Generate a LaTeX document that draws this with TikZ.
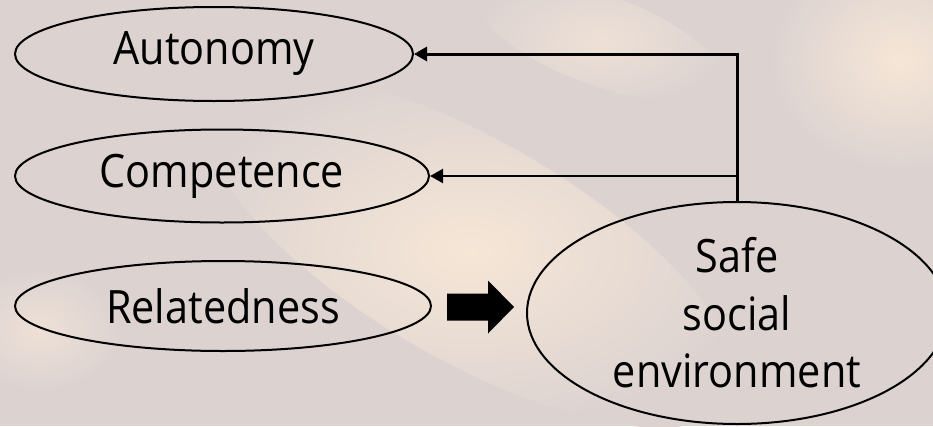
\documentclass[tikz,border=0pt]{standalone}
\usepackage{fontspec}
\setmainfont[FakeStretch=0.9]{Open Sans}
\usetikzlibrary{shapes.geometric,arrows.meta,calc}
\definecolor{bgbase}{RGB}{220,211,209}
\definecolor{peach}{RGB}{246,230,214}
\definecolor{peachlt}{RGB}{238,224,214}
\begin{document}
\begin{tikzpicture}[x=1pt,y=-1pt,
  need/.style={ellipse, draw=black, line width=2pt, inner sep=0pt,
    font=\fontsize{46}{57.5}\selectfont},
  thickline/.style={line width=3pt},
  thinline/.style={line width=2pt},
  tip/.style={{Triangle[length=13pt,width=14pt]}-}]
\useasboundingbox (0,0) rectangle (933,426);
\clip (0,0) rectangle (933,426);
% background
\fill[bgbase] (0,0) rectangle (933,426);
\shade[inner color=peach, outer color=bgbase, rotate around={-30:(470,250)}] (470,250) ellipse (300 and 110);
\shade[inner color=peach, outer color=bgbase] (900,60) ellipse (130 and 110);
\shade[inner color=peachlt, outer color=bgbase, rotate around={-20:(600,40)}] (600,40) ellipse (130 and 45);
\shade[inner color=peachlt, outer color=bgbase] (40,330) ellipse (80 and 60);
% nodes
\node[need, minimum width=398pt, minimum height=94pt] (aut) at (214,54) {Autonomy};
\node[need, minimum width=414pt, minimum height=93pt] (comp) at (222,176) {Competence};
\node[need, minimum width=416pt, minimum height=90pt] (rel) at (223,306) {Relatedness};
\node[need, minimum width=420pt, minimum height=222pt, align=center] (safe) at (737,313) {Safe\\social\\environment};
% connectors
\coordinate (jt) at (safe.north |- aut.east);
\draw[thickline, tip, line join=miter] (aut.east) -- (jt) -- (safe.north);
\draw[thinline, tip] (comp.east) -- (comp.east -| jt);
% block arrow from Relatedness to Safe social environment
\fill[black] ($(rel.east)+(15,-12.5)$) -- ++(41,0) -- ++(0,-13) -- ++(26,26.5)
  -- ++(-26,26.5) -- ++(0,-13) -- ++(-41,0) -- cycle;
\end{tikzpicture}
\end{document}
